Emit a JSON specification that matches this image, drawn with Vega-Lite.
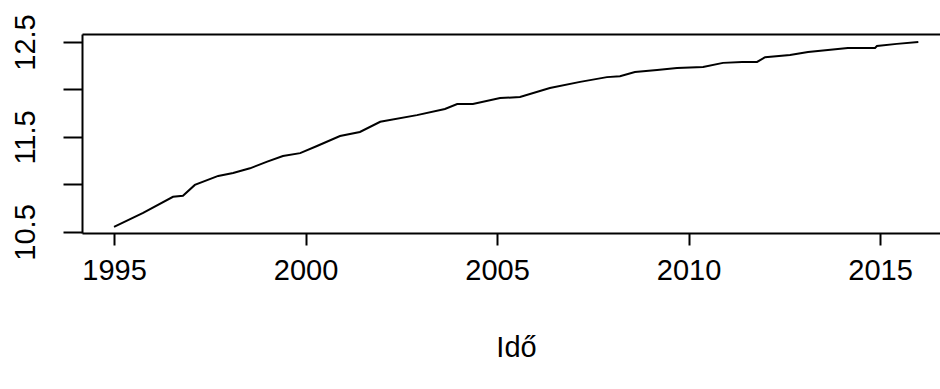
{
  "$schema": "https://vega.github.io/schema/vega-lite/v6.json",
  "width": 858,
  "height": 199,
  "autosize": {"type": "none"},
  "padding": {"left": 82, "top": 34, "right": 0, "bottom": 156},
  "background": "white",
  "config": {
    "view": {"stroke": null},
    "font": "Liberation Sans",
    "axis": {
      "domainColor": "black",
      "domainWidth": 2,
      "tickColor": "black",
      "tickWidth": 2,
      "labelColor": "black",
      "titleColor": "black",
      "grid": false,
      "labelFont": "Liberation Sans",
      "titleFont": "Liberation Sans",
      "labelFontSize": 29,
      "titleFontSize": 29,
      "titleFontWeight": "normal"
    }
  },
  "data": {
    "values": [
      {"year": 1995.0, "value": 10.553},
      {"year": 1995.76, "value": 10.70},
      {"year": 1996.54, "value": 10.87},
      {"year": 1996.80, "value": 10.88},
      {"year": 1997.11, "value": 10.995},
      {"year": 1997.72, "value": 11.09},
      {"year": 1998.11, "value": 11.12},
      {"year": 1998.55, "value": 11.17},
      {"year": 1999.0, "value": 11.24},
      {"year": 1999.41, "value": 11.30},
      {"year": 1999.86, "value": 11.33},
      {"year": 2000.3, "value": 11.405},
      {"year": 2000.9, "value": 11.51},
      {"year": 2001.42, "value": 11.553},
      {"year": 2001.95, "value": 11.66},
      {"year": 2002.91, "value": 11.73},
      {"year": 2003.64, "value": 11.795},
      {"year": 2003.96, "value": 11.847},
      {"year": 2004.37, "value": 11.847},
      {"year": 2005.08, "value": 11.91},
      {"year": 2005.6, "value": 11.92},
      {"year": 2006.38, "value": 12.016},
      {"year": 2007.17, "value": 12.08},
      {"year": 2007.87, "value": 12.13},
      {"year": 2008.21, "value": 12.14},
      {"year": 2008.6, "value": 12.184},
      {"year": 2009.18, "value": 12.205},
      {"year": 2009.7, "value": 12.226},
      {"year": 2010.38, "value": 12.237},
      {"year": 2010.9, "value": 12.28},
      {"year": 2011.4, "value": 12.29},
      {"year": 2011.79, "value": 12.29},
      {"year": 2012.0, "value": 12.34},
      {"year": 2012.65, "value": 12.363},
      {"year": 2013.12, "value": 12.395},
      {"year": 2013.64, "value": 12.416},
      {"year": 2014.16, "value": 12.437},
      {"year": 2014.87, "value": 12.437},
      {"year": 2014.92, "value": 12.458},
      {"year": 2015.44, "value": 12.48},
      {"year": 2016.0, "value": 12.5}
    ]
  },
  "layer": [
    {
      "mark": {"type": "line", "color": "black", "strokeWidth": 2},
      "encoding": {
        "x": {
          "field": "year",
          "type": "quantitative",
          "scale": {"domain": [1994.164, 2016.566], "nice": false, "zero": false},
          "axis": {
            "orient": "bottom",
            "values": [1995, 2000, 2005, 2010, 2015],
            "format": "d",
            "tickSize": 12,
            "labelPadding": 11,
            "labelBaseline": "top",
            "labelFlush": false,
            "labelOverlap": false,
            "title": "Idő",
            "titleBaseline": "alphabetic",
            "titleAlign": "center",
            "titleX": 434,
            "titleY": 123
          }
        },
        "y": {
          "field": "value",
          "type": "quantitative",
          "scale": {"domain": [10.489, 12.584], "nice": false, "zero": false},
          "axis": {
            "values": [10.5, 11, 11.5, 12, 12.5],
            "tickSize": 19,
            "labelAngle": -90,
            "labelAlign": "center",
            "labelBaseline": "alphabetic",
            "labelPadding": 29,
            "labelFlush": false,
            "labelOverlap": false,
            "labelExpr": "datum.value == 11 || datum.value == 12 ? '' : format(datum.value, '.1f')",
            "title": null
          }
        }
      }
    },
    {
      "mark": {"type": "line", "strokeOpacity": 0},
      "encoding": {
        "x": {
          "field": "year",
          "type": "quantitative",
          "axis": {"orient": "top", "ticks": false, "labels": false, "title": null, "domain": true}
        },
        "y": {"field": "value", "type": "quantitative"}
      }
    }
  ],
  "resolve": {"axis": {"x": "independent"}}
}
